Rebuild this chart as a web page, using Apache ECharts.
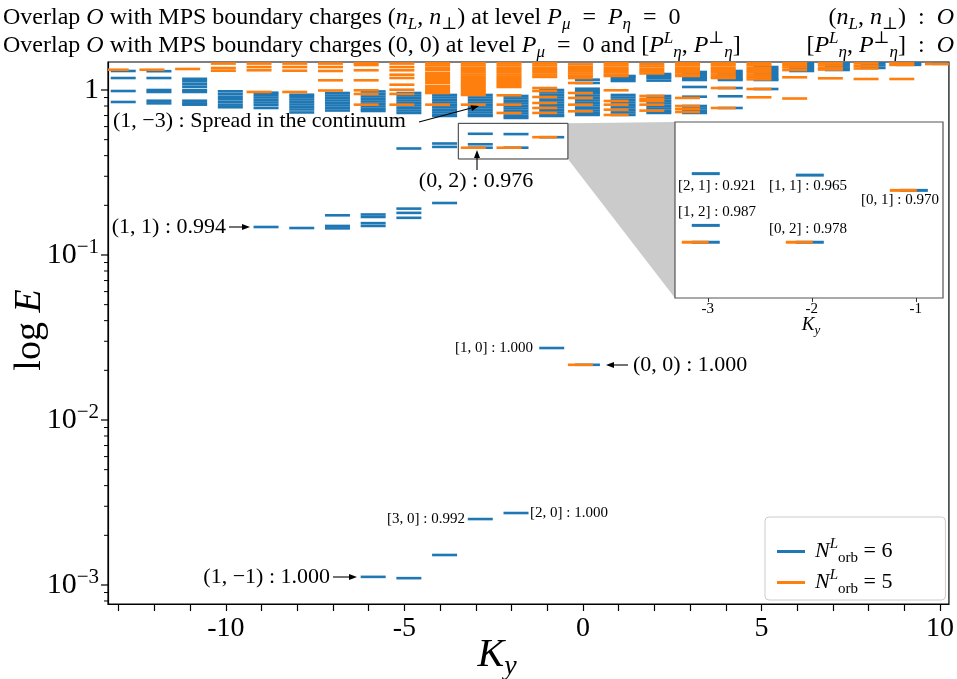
<!DOCTYPE html>
<html>
<head>
<meta charset="utf-8">
<title>Overlap spectrum</title>
<script src="https://cdn.jsdelivr.net/npm/echarts@6.0.0/dist/echarts.min.js"></script>
<style>
  html, body { margin: 0; padding: 0; background: #fff; }
  #main { width: 957px; height: 679px; }
</style>
</head>
<body>
<div id="main"></div>
<script>
// momentum columns K_y
const kyList = [-13, -12, -11, -10, -9, -8, -7, -6, -5, -4, -3, -2, -1, 0, 1, 2, 3, 4, 5, 6, 7, 8, 9, 10]

// energies for N_orb^L = 6 (blue), one list per K_y
const energyN6 = [
  [1.304, 1.182, 0.986, 0.846],
  [1.300, 1.182, 1.000, 0.973, 0.861, 0.830],
  [1.169, 1.129, 1.087, 1.047, 1.000, 0.973, 0.861, 0.830, 0.815],
  [0.982, 0.946, 0.911, 0.878, 0.846, 0.815, 0.786],
  [0.963, 0.933, 0.901, 0.870, 0.840, 0.811, 0.778, 0.1478],
  [0.936, 0.907, 0.876, 0.846, 0.817, 0.789, 0.762, 0.731, 0.1457],
  [0.959, 0.926, 0.895, 0.864, 0.834, 0.806, 0.778, 0.751, 0.174, 0.150, 0.145],
  [0.980, 0.946, 0.913, 0.882, 0.852, 0.823, 0.795, 0.768, 0.746, 0.176, 0.170, 0.156, 0.150, 0.00112],
  [0.959, 0.926, 0.895, 0.864, 0.834, 0.806, 0.778, 0.751, 0.726, 0.442, 0.191, 0.180, 0.168, 0.00110],
  [0.933, 0.901, 0.870, 0.840, 0.811, 0.784, 0.757, 0.731, 0.706, 0.696, 0.474, 0.452, 0.2066, 0.00152],
  [0.933, 0.901, 0.870, 0.840, 0.811, 0.784, 0.757, 0.731, 0.706, 0.696, 0.5427, 0.4688, 0.4470, 0.00251],
  [0.920, 0.889, 0.858, 0.829, 0.800, 0.773, 0.746, 0.721, 0.696, 0.677, 0.5404, 0.4470, 0.00273],
  [1.000, 0.966, 0.933, 0.901, 0.870, 0.840, 0.811, 0.784, 0.757, 0.731, 0.706, 0.696, 0.5176, 0.0273],
  [1.155, 1.103, 1.018, 0.982, 0.959, 0.926, 0.895, 0.864, 0.834, 0.806, 0.778, 0.751, 0.726, 0.706, 0.0216],
  [1.216, 1.199, 1.166, 1.134, 0.933, 0.901, 0.870, 0.840, 0.811, 0.784, 0.757, 0.731, 0.706],
  [1.250, 1.216, 1.182, 1.140, 0.920, 0.889, 0.858, 0.829, 0.800, 0.773, 0.746, 0.726],
  [1.286, 1.250, 1.216, 1.182, 1.150, 1.043, 0.911, 0.800, 0.773, 0.746, 0.726],
  [1.304, 1.268, 1.233, 1.199, 1.166, 1.150, 1.028, 0.916, 0.778],
  [1.378, 1.341, 1.304, 1.268, 1.233, 1.199, 1.166, 1.150, 1.014],
  [1.457, 1.417, 1.378, 1.341, 1.304],
  [1.470, 1.430, 1.390, 1.350, 1.322],
  [1.457, 1.410, 1.360],
  [1.450, 1.420],
  [1.440]
]

// energies for N_orb^L = 5 (orange), one list per K_y
const energyN5 = [
  [1.327],
  [1.327],
  [1.341],
  [1.446, 1.359, 1.309],
  [1.446, 1.378, 1.317, 0.973],
  [1.446, 1.378, 1.309, 0.973],
  [1.446, 1.378, 1.304, 1.145, 0.993],
  [1.460, 1.417, 1.317, 1.145, 0.996, 0.946, 0.815],
  [1.446, 1.378, 1.317, 1.238, 1.182, 1.077, 1.004, 0.946, 0.815],
  [1.457, 1.410, 1.360, 1.322, 1.268, 1.233, 1.199, 1.166, 1.134, 1.103, 1.057, 1.028, 1.000, 0.973, 0.959, 0.815],
  [1.457, 1.410, 1.360, 1.322, 1.280, 1.240, 1.200, 1.166, 1.134, 1.103, 1.072, 1.043, 1.014, 0.986, 0.959, 0.933, 0.815, 0.4470],
  [1.457, 1.410, 1.360, 1.322, 1.280, 1.240, 1.200, 1.166, 1.134, 1.103, 1.072, 1.043, 0.929, 0.815, 0.726, 0.4470],
  [1.457, 1.410, 1.360, 1.322, 1.280, 1.240, 1.200, 1.028, 0.986, 0.907, 0.834, 0.778, 0.726, 0.5176],
  [1.430, 1.380, 1.340, 1.300, 1.260, 1.220, 1.182, 1.103, 0.959, 0.895, 0.815, 0.743, 0.0216],
  [1.457, 1.410, 1.360, 1.322, 1.280, 1.240, 1.216, 0.996, 0.858, 0.815, 0.760, 0.706],
  [1.437, 1.390, 1.340, 1.300, 1.260, 0.920, 0.882, 0.858, 0.815, 0.750],
  [1.450, 1.410, 1.360, 1.320, 1.280, 1.240, 1.216, 0.895, 0.800, 0.767, 0.736],
  [1.450, 1.410, 1.360, 1.320, 1.280, 1.240, 1.200, 1.182, 1.028, 0.778],
  [1.450, 1.410, 1.360, 1.320, 1.280, 1.240, 1.200, 1.160, 1.014, 0.903],
  [1.460, 1.420, 1.370, 1.320, 1.194, 0.888],
  [1.460, 1.410, 1.360, 1.330, 1.177],
  [1.450, 1.400, 1.350, 1.166],
  [1.450, 1.420, 1.166],
  [1.437]
]

const kTicks = [-13, -12, -11, -10, -9, -8, -7, -6, -5, -4, -3, -2, -1, 0, 1, 2, 3, 4, 5, 6, 7, 8, 9, 10]
const kLabels = [-10, -5, 0, 5, 10]
const insetTicks = [-3, -2, -1]

// axis windows
const xRange = [-13.3, 10.25]
const eRange = [7.67e-4, 1.478]
const zoomBoxK = [-3.49, -0.42]
const insetK = [-3.315, -0.739]
const insetE = [0.3818, 0.628]

const BLUE = '#1f77b4'
const ORANGE = '#ff7f0e'
const SERIF = '"Liberation Serif", "DejaVu Serif", serif'
const INSET = { left: 675, top: 122, width: 268, height: 176 }

function toPoints(lists) {
  const pts = []
  kyList.forEach((k, i) => lists[i].forEach(e => pts.push([k, e])))
  return pts
}

function dashRenderer(a, b, color, lw) {
  return function (params, api) {
    const p = api.coord([api.value(0), api.value(1)])
    return {
      type: 'line',
      shape: { x1: p[0] + a, y1: p[1], x2: p[0] + b, y2: p[1] },
      style: { stroke: color, lineWidth: lw }
    }
  }
}

function richFor(size) {
  const s = Math.round(size * 0.7)
  return {
    t: { fontSize: size, fontFamily: SERIF, lineHeight: Math.round(size * 1.3), fill: '#000', color: '#000' },
    i: { fontSize: size, fontFamily: SERIF, fontStyle: 'italic', lineHeight: Math.round(size * 1.3), fill: '#000', color: '#000' },
    sub: { fontSize: s, fontFamily: SERIF, fontStyle: 'italic', lineHeight: s, verticalAlign: 'bottom', fill: '#000', color: '#000' },
    subr: { fontSize: s, fontFamily: SERIF, lineHeight: s, verticalAlign: 'bottom', fill: '#000', color: '#000' },
    sup: { fontSize: s, fontFamily: SERIF, fontStyle: 'italic', lineHeight: s, verticalAlign: 'top', fill: '#000', color: '#000' }
  }
}

function txt(x, y, text, size, align, rot) {
  return {
    type: 'text', x: x, y: y, z: 100, rotation: rot || 0,
    style: { text: text, align: align || 'left', verticalAlign: 'middle', rich: richFor(size),
      fontSize: size, fontFamily: SERIF, fill: '#000' }
  }
}

function arrow(x1, y1, x2, y2) {
  const ang = Math.atan2(y2 - y1, x2 - x1), L = 8, W = 3
  const bx = x2 - L * Math.cos(ang), by = y2 - L * Math.sin(ang)
  const px = -Math.sin(ang) * W, py = Math.cos(ang) * W
  return [
    { type: 'line', z: 100, shape: { x1: x1, y1: y1, x2: bx, y2: by }, style: { stroke: '#000', lineWidth: 1.1 } },
    { type: 'polygon', z: 100, shape: { points: [[x2, y2], [bx + px, by + py], [bx - px, by - py]] }, style: { fill: '#000' } }
  ]
}

// y axis major + minor ticks (log decades)
const yTicks = []
for (let d = -4; d <= 0; d++) {
  for (let m = 1; m <= 9; m++) {
    const v = m * Math.pow(10, d)
    if (v >= eRange[0] && v <= eRange[1]) yTicks.push([xRange[0], v, m === 1 ? 1 : 0])
  }
}

const t1 = '{t|Overlap }{i|O}{t| with MPS boundary charges (}{i|n}{sub|L}{t|, }{i|n}{subr|⊥}{t|) at level }{i|P}{sub|μ}{t|  =  }{i|P}{sub|η}{t|  =  0}'
const t1r = '{t|(}{i|n}{sub|L}{t|, }{i|n}{subr|⊥}{t|)  :  }{i|O}'
const t2 = '{t|Overlap }{i|O}{t| with MPS boundary charges (0, 0) at level }{i|P}{sub|μ}{t|  =  0 and [}{i|P}{sup|L}{sub|η}{t|, }{i|P}{sup|⊥}{sub|η}{t|]}'
const t2r = '{t|[}{i|P}{sup|L}{sub|η}{t|, }{i|P}{sup|⊥}{sub|η}{t|]  :  }{i|O}'

const graphics = [
  txt(3, 18, t1, 24),
  txt(954, 18, t1r, 24, 'right'),
  txt(3, 46, t2, 24),
  txt(954, 46, t2r, 24, 'right'),
  txt(30, 330, '{t|log }{i|E}', 38, 'center', Math.PI / 2),
  txt(497, 655, '{i|K}{sub|y}', 40, 'center'),
  txt(811, 325, '{i|K}{sub|y}', 19, 'center'),
  txt(113, 121, '(1, −3) : Spread in the continuum', 22),
  txt(476, 181, '(0, 2) : 0.976', 22, 'center'),
  txt(226, 227, '(1, 1) : 0.994', 22, 'right'),
  txt(633, 365, '(0, 0) : 1.000', 22),
  txt(330, 577, '(1, −1) : 1.000', 22, 'right'),
  txt(533, 348, '[1, 0] : 1.000', 15, 'right'),
  txt(465, 519, '[3, 0] : 0.992', 15, 'right'),
  txt(530, 513, '[2, 0] : 1.000', 15),
  txt(678, 186, '[2, 1] : 0.921', 15),
  txt(678, 212, '[1, 2] : 0.987', 15),
  txt(769, 186, '[1, 1] : 0.965', 15),
  txt(769, 229, '[0, 2] : 0.978', 15),
  txt(861, 200, '[0, 1] : 0.970', 15)
].concat(
  arrow(419, 122, 479, 106),
  arrow(477, 170, 477, 150),
  arrow(229, 227, 250, 227),
  arrow(628, 365, 606, 365),
  arrow(333, 577, 357, 577)
)

const chart = echarts.init(document.getElementById('main'))
const option = {
  animation: false,
  backgroundColor: '#fff',
  grid: [
    { left: 108, right: 7, top: 62, bottom: 75, show: true, borderColor: '#000', borderWidth: 1.2 },
    { left: INSET.left, top: INSET.top, width: INSET.width, height: INSET.height, show: true,
      backgroundColor: '#fff', borderColor: '#555', borderWidth: 1.2, z: 10 }
  ],
  xAxis: [
    {
      type: 'value', gridIndex: 0, min: xRange[0], max: xRange[1],
      axisLine: { show: true, onZero: false, lineStyle: { color: '#000', width: 1.2 } },
      axisTick: { show: true, length: 7, customValues: kTicks, lineStyle: { color: '#000', width: 1.2 } },
      axisLabel: { customValues: kLabels, fontSize: 28, fontFamily: SERIF, color: '#000', margin: 11 },
      splitLine: { show: false }
    },
    {
      type: 'value', gridIndex: 1, min: insetK[0], max: insetK[1], z: 11,
      axisLine: { show: false, onZero: false },
      axisTick: { show: true, length: 4, customValues: insetTicks, lineStyle: { color: '#333' } },
      axisLabel: { customValues: insetTicks, fontSize: 15, fontFamily: SERIF, color: '#000', margin: 4 },
      splitLine: { show: false }
    }
  ],
  yAxis: [
    {
      type: 'log', logBase: 10, gridIndex: 0, min: eRange[0], max: eRange[1],
      axisLine: { show: true, onZero: false, lineStyle: { color: '#000', width: 1.2 } },
      axisTick: { show: false },
      minorTick: { show: false },
      splitLine: { show: false },
      axisLabel: {
        margin: 9,
        formatter: function (v) {
          const lg = Math.log10(v), ex = Math.round(lg)
          if (Math.abs(lg - ex) > 1e-6) return ''
          return ex === 0 ? '{b|1}' : '{b|10}{s|' + (ex < 0 ? '−' : '') + Math.abs(ex) + '}'
        },
        rich: {
          b: { fontSize: 30, fontFamily: SERIF, color: '#000', lineHeight: 36 },
          s: { fontSize: 21, fontFamily: SERIF, color: '#000', lineHeight: 21, verticalAlign: 'top' }
        }
      }
    },
    {
      type: 'log', logBase: 10, gridIndex: 1, min: insetE[0], max: insetE[1], z: 11,
      axisLine: { show: false, onZero: false }, axisTick: { show: false }, axisLabel: { show: false }, splitLine: { show: false }
    }
  ],
  legend: {
    data: [{ name: 'N6', icon: 'rect' }, { name: 'N5', icon: 'rect' }],
    orient: 'vertical', left: 765, top: 517,
    itemWidth: 28, itemHeight: 3, itemGap: 2,
    padding: [20, 53, 3, 12],
    borderColor: '#ccc', borderWidth: 1, borderRadius: 4, backgroundColor: '#fff',
    formatter: function (name) {
      return '{i|N}{sup|L}{subr|orb}{t| = ' + (name === 'N6' ? '6' : '5') + '}'
    },
    textStyle: { rich: richFor(22), padding: [0, 0, 0, 5] }
  },
  series: [
    {
      name: 'N6', type: 'custom', xAxisIndex: 0, yAxisIndex: 0, z: 2, clip: true,
      itemStyle: { color: BLUE },
      renderItem: dashRenderer(-8, 17, BLUE, 2.6),
      data: toPoints(energyN6)
    },
    {
      name: 'N5', type: 'custom', xAxisIndex: 0, yAxisIndex: 0, z: 2, clip: true,
      itemStyle: { color: ORANGE },
      renderItem: dashRenderer(-15, 10, ORANGE, 2.6),
      data: toPoints(energyN5)
    },
    {
      name: 'N6', type: 'custom', xAxisIndex: 1, yAxisIndex: 1, z: 11, clip: true,
      itemStyle: { color: BLUE },
      renderItem: dashRenderer(-16, 12, BLUE, 3),
      data: toPoints(energyN6)
    },
    {
      name: 'N5', type: 'custom', xAxisIndex: 1, yAxisIndex: 1, z: 11, clip: true,
      itemStyle: { color: ORANGE },
      renderItem: dashRenderer(-26, 1, ORANGE, 3),
      data: toPoints(energyN5)
    },
    {
      name: 'zoomBox', type: 'custom', xAxisIndex: 0, yAxisIndex: 0, z: 3, clip: false, silent: true,
      renderItem: function (params, api) {
        const a = api.coord([api.value(0), api.value(3)])
        const b = api.coord([api.value(2), api.value(1)])
        return {
          type: 'group',
          children: [
            { type: 'polygon', shape: { points: [[b[0], a[1]], [INSET.left, INSET.top], [INSET.left, INSET.top + INSET.height], [b[0], b[1]]] },
              style: { fill: '#cbcbcb', stroke: null } },
            { type: 'rect', shape: { x: a[0], y: a[1], width: b[0] - a[0], height: b[1] - a[1] },
              style: { fill: null, stroke: '#333', lineWidth: 1 } }
          ]
        }
      },
      data: [[zoomBoxK[0], insetE[0], zoomBoxK[1], insetE[1]]]
    },
    {
      name: 'yTicks', type: 'custom', xAxisIndex: 0, yAxisIndex: 0, z: 5, clip: false, silent: true,
      renderItem: function (params, api) {
        const p = api.coord([api.value(0), api.value(1)])
        const len = api.value(2) ? 7 : 4
        return {
          type: 'line',
          shape: { x1: p[0] - len, y1: p[1], x2: p[0], y2: p[1] },
          style: { stroke: '#000', lineWidth: api.value(2) ? 1.2 : 1 }
        }
      },
      data: yTicks
    }
  ],
  graphic: graphics
}
chart.setOption(option)
</script>
</body>
</html>
